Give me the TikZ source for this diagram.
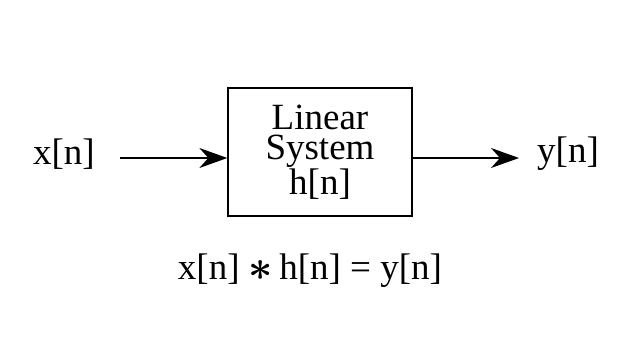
\documentclass[tikz,border=0pt]{standalone}
\usepackage{fontspec}
\setmainfont{Liberation Serif}
\usetikzlibrary{arrows.meta}
\begin{document}
\begin{tikzpicture}[x=1pt,y=-1pt,
  lbl/.style={inner sep=0pt, font=\fontsize{37}{31}\selectfont},
  sysbox/.style={draw, line width=1.3pt, minimum width=184pt, minimum height=128pt, inner sep=0pt, align=center, font=\fontsize{37}{30}\selectfont},
  conn/.style={line width=1.3pt, -{Stealth[length=28pt,width=20pt,inset=9pt]}}]
\useasboundingbox (0,0) rectangle (619,358);
\fill[white] (0,0) rectangle (619,358);
\node[sysbox] (sys) at (320,152) {Linear\\System\\h[n]};
\node[lbl] (x) at (64,154) {x[n]};
\node[lbl] (y) at (568,154) {y[n]};
\coordinate (xs) at (120,158);
\coordinate (ye) at (519,158);
\draw[conn] (xs) -- (sys.west |- xs);
\draw[conn] (sys.east |- ye) -- (ye);
\node[lbl] (eq) at (310,271) {x[n] \raisebox{-1pt}{\scalebox{1.7}{\boldmath$\ast$}}\,h[n] = y[n]};
\end{tikzpicture}
\end{document}
